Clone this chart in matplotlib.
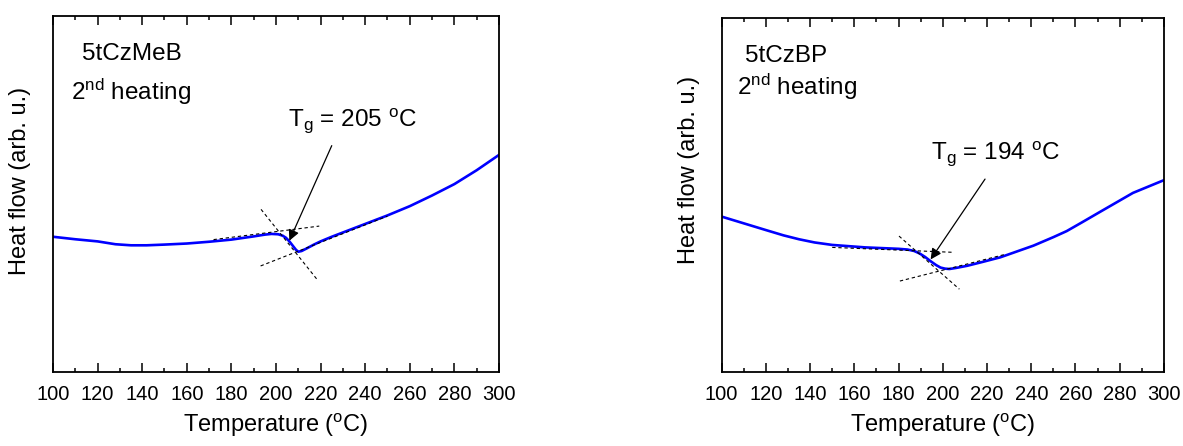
import numpy as np
import matplotlib.pyplot as plt
from matplotlib.ticker import MultipleLocator

plt.rcParams['font.family'] = ['Liberation Sans', 'DejaVu Sans']
plt.rcParams['mathtext.default'] = 'regular'

# 5tCzMeB, 2nd heating (heat flow in arbitrary units)
temp_meb = [100, 110, 120, 128, 135, 142, 150, 160, 170, 180, 190, 195, 198, 201, 203,
            204.5, 206, 207.5, 209, 210, 211.5, 214, 217, 220, 225, 230, 240, 250, 260,
            270, 280, 290, 300]
flow_meb = [0.380, 0.373, 0.367, 0.359, 0.356, 0.356, 0.358, 0.361, 0.366, 0.372, 0.381,
            0.386, 0.388, 0.387, 0.383, 0.377, 0.367, 0.355, 0.343, 0.338, 0.340, 0.348,
            0.358, 0.367, 0.380, 0.392, 0.416, 0.440, 0.466, 0.496, 0.528, 0.567, 0.610]

# 5tCzBP, 2nd heating
temp_bp = [100, 110, 120, 128, 135, 142, 150, 165, 180, 184, 187, 189.5, 192, 194.5, 197,
           199, 201, 203, 206, 211, 218, 226, 241, 250, 256, 263, 271, 286, 300]
flow_bp = [0.439, 0.420, 0.401, 0.386, 0.375, 0.366, 0.359, 0.352, 0.348, 0.346, 0.342,
           0.335, 0.325, 0.313, 0.302, 0.295, 0.292, 0.291, 0.294, 0.300, 0.311, 0.324,
           0.357, 0.381, 0.398, 0.423, 0.452, 0.506, 0.542]

# onset construction lines: (T start, T end), (y start, y end)
tang_meb = [((172, 219.4), (0.372, 0.410)),
            ((193.3, 218.3), (0.457, 0.261)),
            ((193.1, 250), (0.298, 0.438))]
tang_bp = [((150, 205.2), (0.352, 0.338)),
           ((180.2, 207.5), (0.384, 0.234)),
           ((180.6, 228), (0.257, 0.332))]

tg_meb = 205
tg_bp = 194
arrow_meb = ((206.0, 0.369), (225.0, 0.636))
arrow_bp = ((194.5, 0.318), (219.1, 0.545))
label_meb = (205.5, 0.691)
label_bp = (194.6, 0.601)

fig = plt.figure(figsize=(11.83, 4.46), dpi=100)
ax1 = fig.add_axes([0.0448, 0.1659, 0.377, 0.798])
ax2 = fig.add_axes([0.610, 0.1659, 0.3739, 0.7937])

panels = [
    (ax1, temp_meb, flow_meb, tang_meb, tg_meb, arrow_meb, label_meb, '5tCzMeB',
     (0.064, 0.876), (0.040, 0.764), (-0.050, 0.538)),
    (ax2, temp_bp, flow_bp, tang_bp, tg_bp, arrow_bp, label_bp, '5tCzBP',
     (0.053, 0.875), (0.034, 0.782), (-0.050, 0.571)),
]

for ax, t, f, tang, tg, arr, lab, name, name_pos, heat_pos, ylab_pos in panels:
    ax.plot(t, f, color='#0000ff', lw=1.9, solid_joinstyle='round')
    for xs, ys in tang:
        ax.plot(xs, ys, color='black', lw=0.8, ls=(0, (3, 2.5)))
    ax.annotate('', xy=arr[0], xytext=arr[1],
                arrowprops=dict(arrowstyle='-|>', color='black', lw=0.9,
                                mutation_scale=16, shrinkA=0, shrinkB=0))
    ax.text(lab[0], lab[1], f'T$_g$ = {tg} $^o$C', fontsize=17.5, ha='left', va='baseline')
    ax.text(name_pos[0], name_pos[1], name, transform=ax.transAxes, fontsize=17.5,
            ha='left', va='baseline')
    ax.text(heat_pos[0], heat_pos[1], '2$^{nd}$ heating', transform=ax.transAxes,
            fontsize=17.5, ha='left', va='baseline')

    ax.set_xlim(100, 300)
    ax.set_ylim(0, 1)
    ax.xaxis.set_major_locator(MultipleLocator(20))
    ax.xaxis.set_minor_locator(MultipleLocator(10))
    ax.tick_params(axis='x', which='both', direction='in', top=True, labelsize=14.5, pad=9)
    ax.tick_params(axis='x', which='major', length=6.5, width=1.1)
    ax.tick_params(axis='x', which='minor', length=3, width=1.1)
    ax.set_yticks([])
    for sp in ax.spines.values():
        sp.set_linewidth(1.3)
    ax.set_xlabel('Temperature ($^o$C)', fontsize=17, labelpad=6)
    ax.set_ylabel('Heat flow (arb. u.)', fontsize=17)
    ax.yaxis.set_label_coords(*ylab_pos)

fig.savefig('out.png', dpi=100)
